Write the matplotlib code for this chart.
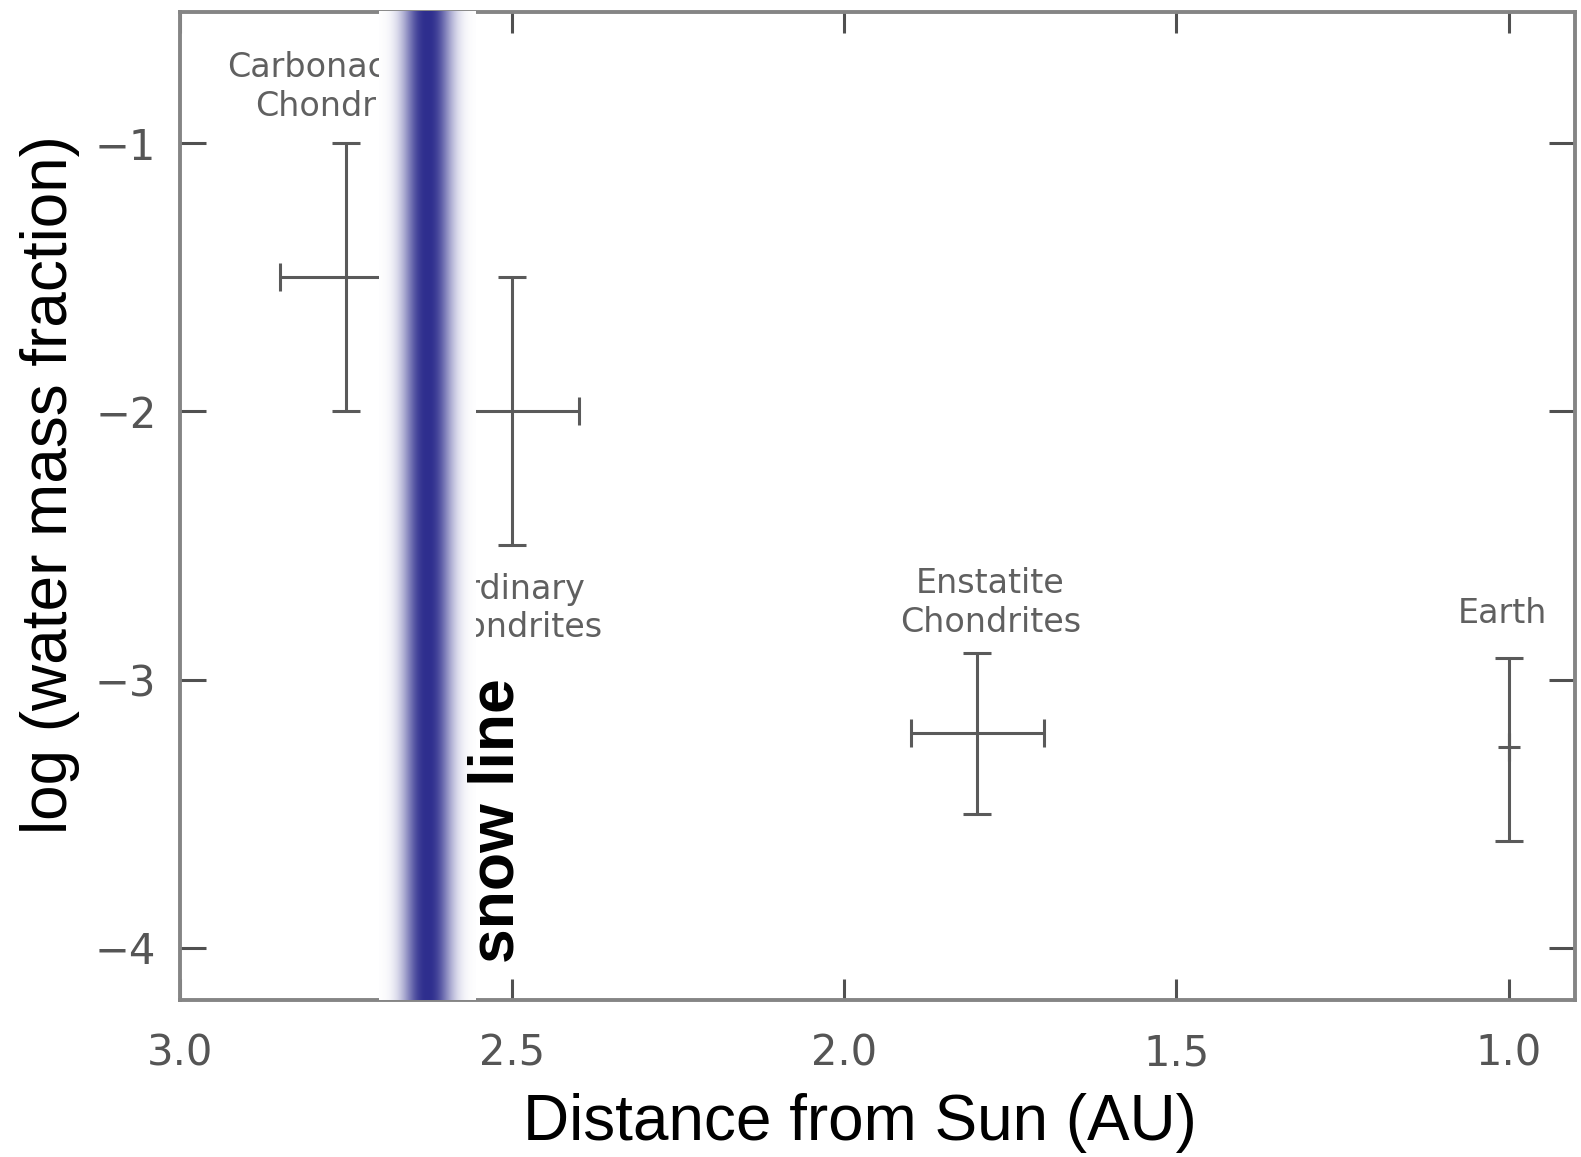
"""
Water content vs. heliocentric distance, with the snow line
"""

import numpy as np
import matplotlib.pyplot as plt
from matplotlib.ticker import FormatStrFormatter


# ============ Data ============
names = ['Carbonaceous\nChondrites', 'Ordinary\nChondrites', 'Enstatite\nChondrites', 'Earth']
dist = np.array([2.75, 2.50, 1.80, 1.00])
dist_left = np.array([2.85, 2.60, 1.90, 1.00])
dist_right = np.array([2.65, 2.40, 1.70, 1.00])
log_water = np.array([-1.50, -2.00, -3.20, -3.25])
log_water_top = np.array([-1.00, -1.50, -2.90, -2.92])
log_water_bot = np.array([-2.00, -2.50, -3.50, -3.60])

label_x = [2.75, 2.50, 1.78, 1.01]
label_y = [-0.79, -2.735, -2.715, -2.755]

snow_left, snow_right = 2.70, 2.555

x_ticks = [3.0, 2.5, 2.0, 1.5, 1.0]
y_ticks = [-4, -3, -2, -1]
x_lim = (3.0, 0.9)
y_lim = (-4.195, -0.51)

gray = '#5a5a5a'
snow_blue = np.array([0x2e, 0x2e, 0x8e]) / 255.0

# ============ Figure ============
fig = plt.figure(figsize=(15.81, 11.57), dpi=100)
ax = fig.add_axes([0.11385, 0.13544, 0.8824, 0.8546])

# error bars
xerr = [np.abs(dist - dist_left), np.abs(dist_right - dist)]
yerr = [log_water - log_water_bot, log_water_top - log_water]
ax.errorbar(dist, log_water, xerr=xerr, yerr=yerr, fmt='none',
            ecolor=gray, elinewidth=2.2, capsize=10, capthick=2.2, zorder=2)
# Earth has no x error, just a center mark
ax.plot(dist[3], log_water[3], marker='_', ms=16, mew=2.2, color=gray, zorder=2)

# object labels
for name, lx, ly in zip(names, label_x, label_y):
    ax.text(lx, ly, name, ha='center', va='center', fontsize=24,
            color='#606060', linespacing=1.22, zorder=2)

# snow line band (white -> blue -> white), drawn over text and frame
px = np.linspace(-1, 1, 200)
w = np.exp(-np.abs(px / 0.5) ** 2.4)
band = (1 - w)[:, None] * np.ones(3) + w[:, None] * snow_blue
ax.imshow(band[None, :, :], extent=[snow_left, snow_right, y_lim[0], y_lim[1]],
          aspect='auto', interpolation='bilinear', zorder=3, clip_on=False)

ax.text(2.523, -3.525, 'snow line', rotation=90, ha='center', va='center',
        fontsize=45, fontweight='bold', family='Liberation Sans', color='black', zorder=4)

# ============ Axes styling ============
ax.set_xlim(*x_lim)
ax.set_ylim(*y_lim)
ax.set_xticks(x_ticks)
ax.set_yticks(y_ticks)
ax.xaxis.set_major_formatter(FormatStrFormatter('%.1f'))

ax.tick_params(axis='both', direction='in', top=True, right=True,
               width=2.2, color='#505050', labelsize=30, labelcolor='#555555')
ax.tick_params(axis='x', length=15, pad=23)
ax.tick_params(axis='y', length=19, pad=17)

for sp in ax.spines.values():
    sp.set_color('#858585')
    sp.set_linewidth(2.8)

fig.text(0.0319, 0.5808, 'log (water mass fraction)', rotation=90,
         ha='center', va='center', fontsize=46, family='Liberation Sans')
fig.text(0.544, 0.0294, 'Distance from Sun (AU)',
         ha='center', va='center', fontsize=46, family='Liberation Sans')

fig.savefig('out.png', dpi=100)
plt.close()
